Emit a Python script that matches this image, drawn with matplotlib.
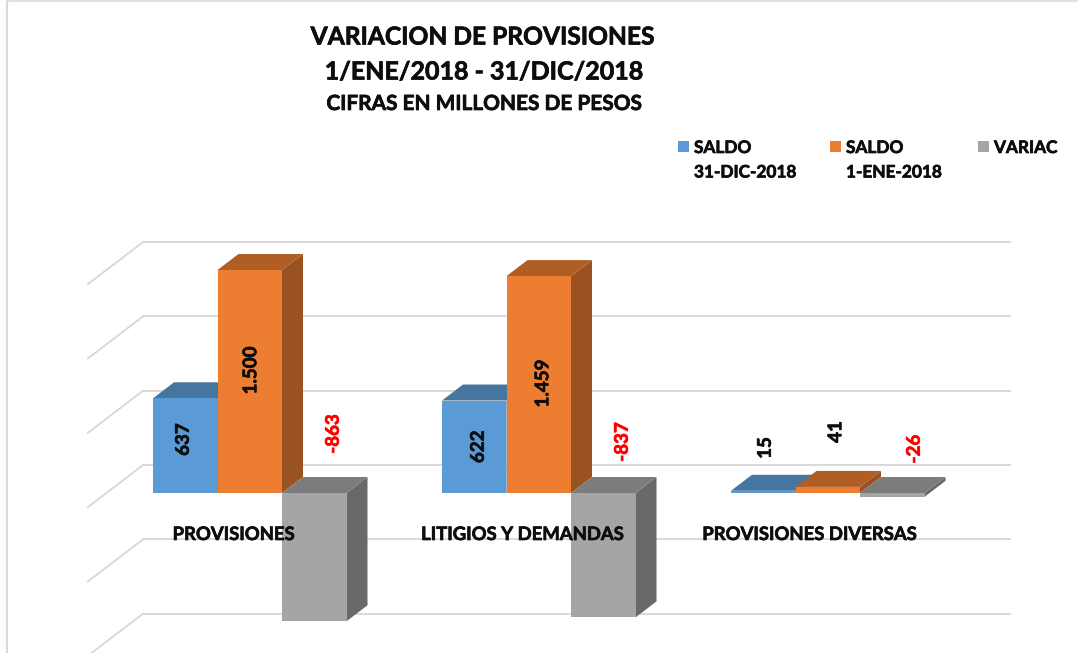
import matplotlib
matplotlib.use('Agg')
import matplotlib.pyplot as plt
import matplotlib.patheffects as pe
from matplotlib.patches import Rectangle

categories = ['PROVISIONES', 'LITIGIOS Y DEMANDAS', 'PROVISIONES DIVERSAS']
saldo_dic = [637, 622, 15]
saldo_ene = [1500, 1459, 41]
variac = [-863, -837, -26]
saldo_dic_text = ['637', '622', '15']
saldo_ene_text = ['1.500', '1.459', '41']
variac_text = ['-863', '-837', '-26']
grid_values = [-1000, -500, 0, 500, 1000, 1500]

W, H = 1078, 653
# one category = 289 px, 1500 units = 223 px
PX_X = 1 / 289
PX_Y = 1500 / 223
X0, Y0 = 249.75, 493

bar_w = 64.5 * PX_X
depth_x = 21 * PX_X
depth_y = 16 * PX_Y

plt.rcParams['font.family'] = ['Lato', 'DejaVu Sans']

fig = plt.figure(figsize=(W / 100, H / 100), dpi=100)
ax = fig.add_axes([0, 0, 1, 1])
ax.set_xlim(-X0 * PX_X, (W - X0) * PX_X)
ax.set_ylim(-(H - Y0) * PX_Y, Y0 * PX_Y)
ax.axis('off')


def heavy(col):
    return [pe.withStroke(linewidth=0.5, foreground=col)]


def figtxt(x, y, s, size, ha='left'):
    fig.text(x / W, 1 - y / H, s, fontsize=size, fontweight='bold', ha=ha, va='center',
             color='#0d0d0d', path_effects=heavy('#0d0d0d'))


# frame of the picture
fig.add_artist(plt.Line2D([7 / W, 7 / W], [0, 1], color='#d9d9d9', lw=1.5))
fig.add_artist(plt.Line2D([7 / W, 1], [0.999, 0.999], color='#e2e2e2', lw=1.5))

# gridlines: back wall and side wall
wall_back = 188
wall_x0 = -106.75 * PX_X
wall_x1 = 760.25 * PX_X
for v in grid_values:
    yb = v + wall_back
    ax.plot([wall_x0, wall_x1], [yb, yb], color='#d9d9d9', lw=1.4, zorder=1)
    ax.plot([wall_x0 - 55 * PX_X, wall_x0], [yb - 42 * PX_Y, yb], color='#d9d9d9', lw=1.4, zorder=1)


def bar3d(x, val, front, top, side, z):
    hi = max(val, 0)
    lo = min(val, 0)
    ax.fill([x + bar_w, x + bar_w + depth_x, x + bar_w + depth_x, x + bar_w],
            [lo, lo + depth_y, hi + depth_y, hi], color=side, lw=0, zorder=z)
    ax.fill([x, x + depth_x, x + bar_w + depth_x, x + bar_w],
            [hi, hi + depth_y, hi + depth_y, hi], color=top, lw=0, zorder=z)
    ax.fill([x, x + bar_w, x + bar_w, x], [lo, lo, hi, hi], color=front, lw=0, zorder=z)


series = [
    (saldo_dic, '#5b9bd5', '#46759f', '#3f6a91'),
    (saldo_ene, '#ed7d31', '#b15e25', '#9a5220'),
    (variac, '#a5a5a5', '#7c7c7c', '#696969'),
]
for i in range(len(categories)):
    for j, (vals, front, top, side) in enumerate(series):
        bar3d(i + (j - 1.5) * bar_w, vals[i], front, top, side, 3 + j)

# data labels, offset in px from the bar centre
label_sets = [
    (saldo_dic, saldo_dic_text, '#0d0d0d', [(-2, 6), (4, 0), (2, 45)]),
    (saldo_ene, saldo_ene_text, '#0d0d0d', [(1, 11), (4, 1), (8, 61)]),
    (variac, variac_text, '#ff0000', [(19, 59), (19, 51), (22, 44)]),
]
for j, (vals, texts, col, offs) in enumerate(label_sets):
    for i in range(3):
        xc = i + (j - 1) * bar_w
        ybase = 0 if (i == 2 or vals[i] < 0) else vals[i] / 2
        dx, dy = offs[i]
        ax.annotate(texts[i], (xc, ybase), xytext=(dx * 0.72, dy * 0.72), textcoords='offset points',
                    rotation=90, ha='center', va='center', fontsize=13.5, fontweight='bold',
                    color=col, zorder=10, path_effects=heavy(col))

# category labels
for i, name in enumerate(categories):
    ax.text(i - (16 + 2 * (i == 2)) * PX_X, -41.5 * PX_Y, name, ha='center', va='center',
            fontsize=13.3, fontweight='bold', color='#0d0d0d', zorder=10,
            path_effects=heavy('#0d0d0d'))

# titles
figtxt(483, 37, 'VARIACION DE PROVISIONES', 17.7, 'center')
figtxt(484, 72, '1/ENE/2018 - 31/DIC/2018', 18, 'center')
figtxt(484, 104, 'CIFRAS EN MILLONES DE PESOS', 15, 'center')

# legend
legend_items = [(678, '#5b9bd5', 'SALDO', '31-DIC-2018'),
                (830, '#ed7d31', 'SALDO', '1-ENE-2018'),
                (978, '#a5a5a5', 'VARIAC', '')]
for x, col, l1, l2 in legend_items:
    fig.add_artist(Rectangle((x / W, 1 - 152 / H), 11 / W, 11 / H, transform=fig.transFigure,
                             color=col, lw=0))
    figtxt(x + 16, 148, l1, 12.4)
    if l2:
        figtxt(x + 16, 172.5, l2, 12.4)

fig.savefig('out.png', dpi=100, facecolor='white')
